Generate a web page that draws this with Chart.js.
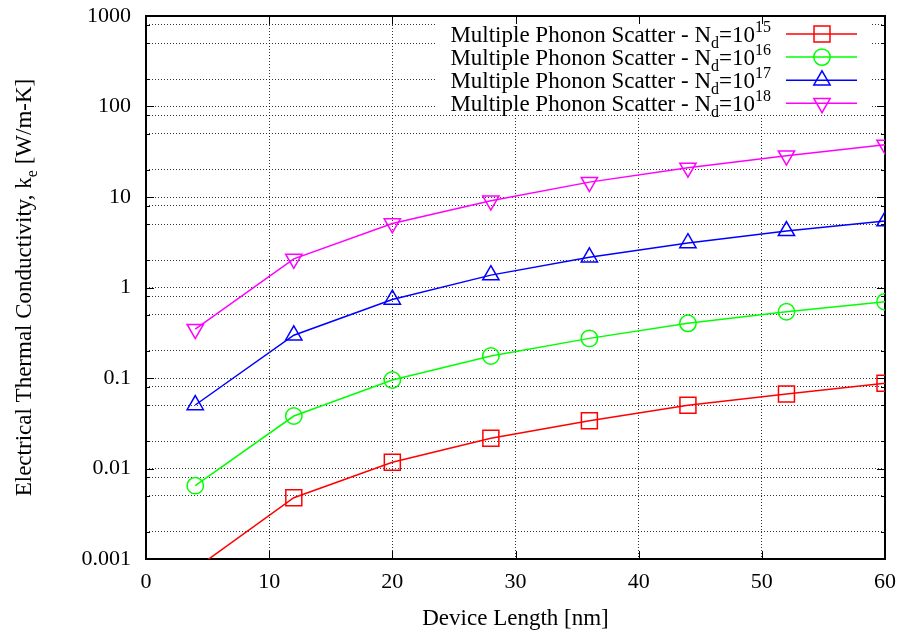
<!DOCTYPE html>
<html>
<head>
<meta charset="utf-8">
<script src="https://cdn.jsdelivr.net/npm/chart.js@4/dist/chart.umd.min.js"></script>
<style>
  html, body { margin: 0; padding: 0; background: #fff; }
  canvas { display: block; }
</style>
</head>
<body>
<canvas id="c" width="903" height="632"></canvas>
<script>
// Device length [nm] at each computed point
const deviceLength = [4, 12, 20, 28, 36, 44, 52, 60];

// Electrical thermal conductivity k_e [W/m-K], one array per doping level
const ke_Nd1e15 = [0.00078, 0.00475, 0.0117, 0.0216, 0.0337, 0.0499, 0.0666, 0.0874];
const ke_Nd1e16 = [0.00646, 0.038, 0.095, 0.175, 0.274, 0.402, 0.54, 0.697];
const ke_Nd1e17 = [0.0503, 0.297, 0.736, 1.37, 2.16, 3.1, 4.22, 5.42];
const ke_Nd1e18 = [0.347, 2.07, 5.1, 9.1, 14.6, 21.0, 28.6, 37.7];

// Doping exponents shown in the key
const dopingExponents = ['15', '16', '17', '18'];

// Axis ticks
const yMajorTicks = [0.001, 0.01, 0.1, 1, 10, 100, 1000];
const yMajorLabels = ['0.001', '0.01', '0.1', '1', '10', '100', '1000'];
const yMinorFactors = [2, 5, 8];
const xTickStep = 10;

const FONT = 'Liberation Serif, Times New Roman, serif';
const TEXT_SIZE = 23;

// Full list of y tick values: decades plus 2, 5, 8 within each decade
const yTickValues = [];
yMajorTicks.forEach((v, i) => {
  yTickValues.push(v);
  if (i < yMajorTicks.length - 1) {
    yMinorFactors.forEach(f => yTickValues.push(parseFloat((v * f).toPrecision(6))));
  }
});
function isMajor(v) {
  return yMajorTicks.some(m => Math.abs(v - m) / m < 1e-9);
}
function majorLabel(v) {
  const i = yMajorTicks.findIndex(m => Math.abs(v - m) / m < 1e-9);
  return i >= 0 ? yMajorLabels[i] : '';
}

const seriesDefs = [
  { values: ke_Nd1e15, color: '#ff0000', style: 'rect', radius: 11.3, rotation: 0 },
  { values: ke_Nd1e16, color: '#00ff00', style: 'circle', radius: 8.2, rotation: 0 },
  { values: ke_Nd1e17, color: '#0000ff', style: 'triangle', radius: 9.4, rotation: 0 },
  { values: ke_Nd1e18, color: '#ff00ff', style: 'triangle', radius: 9.4, rotation: 180 }
];

const datasets = seriesDefs.map((s, k) => ({
  label: 'Multiple Phonon Scatter - Nd=10^' + dopingExponents[k],
  data: deviceLength.map((x, i) => ({ x: x, y: s.values[i] })),
  borderColor: s.color,
  backgroundColor: 'rgba(0,0,0,0)',
  borderWidth: 1.5,
  tension: 0,
  pointStyle: s.style,
  pointRotation: s.rotation,
  pointRadius: s.radius,
  pointHoverRadius: s.radius,
  pointBorderWidth: 1.5,
  pointBorderColor: s.color,
  pointBackgroundColor: 'rgba(0,0,0,0)',
  clip: 0
}));

// Draw a run of text pieces (normal / sub / superscript) starting at x
function drawRich(ctx, parts, x, y) {
  let cx = x;
  parts.forEach(p => {
    ctx.font = p.size + 'px ' + FONT;
    ctx.fillText(p.t, cx, y + p.dy);
    cx += ctx.measureText(p.t).width;
  });
}
function richWidth(ctx, parts) {
  let w = 0;
  parts.forEach(p => {
    ctx.font = p.size + 'px ' + FONT;
    w += ctx.measureText(p.t).width;
  });
  return w;
}

function drawMarker(ctx, s, x, y) {
  const opts = {
    pointStyle: s.style, rotation: s.rotation, radius: s.radius, borderWidth: 1.5
  };
  ctx.save();
  ctx.strokeStyle = s.color;
  ctx.fillStyle = 'rgba(0,0,0,0)';
  ctx.lineWidth = 1.5;
  Chart.helpers.drawPoint(ctx, opts, x, y);
  ctx.restore();
}

const framePlugin = {
  id: 'frameAndKey',
  beforeDatasetsDraw(chart) {
    const { ctx, chartArea: a, scales } = chart;
    ctx.save();
    // opaque key area
    ctx.fillStyle = '#ffffff';
    ctx.fillRect(436, 19, 436, 95);

    // inward tick marks on all four sides
    ctx.strokeStyle = '#000';
    ctx.lineWidth = 1;
    ctx.beginPath();
    scales.y.ticks.forEach(t => {
      const py = Math.round(scales.y.getPixelForValue(t.value)) + 0.5;
      const len = isMajor(t.value) ? 8 : 4;
      ctx.moveTo(a.left, py); ctx.lineTo(a.left + len, py);
      ctx.moveTo(a.right, py); ctx.lineTo(a.right - len, py);
    });
    scales.x.ticks.forEach(t => {
      const px = Math.round(scales.x.getPixelForValue(t.value)) + 0.5;
      ctx.moveTo(px, a.bottom); ctx.lineTo(px, a.bottom - 8);
      ctx.moveTo(px, a.top); ctx.lineTo(px, a.top + 8);
    });
    ctx.stroke();

    // plot border
    ctx.lineWidth = 2;
    ctx.strokeRect(Math.round(a.left), Math.round(a.top),
                   Math.round(a.right - a.left), Math.round(a.bottom - a.top));
    ctx.restore();
  },
  afterDatasetsDraw(chart) {
    const { ctx, chartArea: a } = chart;
    ctx.save();
    ctx.fillStyle = '#000';
    ctx.textBaseline = 'alphabetic';
    ctx.textAlign = 'left';

    // key entries
    seriesDefs.forEach((s, k) => {
      const cy = 34 + k * 23.1;
      const parts = [
        { t: 'Multiple Phonon Scatter - N', size: TEXT_SIZE, dy: 0 },
        { t: 'd', size: 16, dy: 6 },
        { t: '=10', size: TEXT_SIZE, dy: 0 },
        { t: dopingExponents[k], size: 16, dy: -10 }
      ];
      const w = richWidth(ctx, parts);
      ctx.fillStyle = '#000';
      drawRich(ctx, parts, 771 - w, cy + 7.5);

      ctx.strokeStyle = s.color;
      ctx.lineWidth = 1.5;
      ctx.beginPath();
      ctx.moveTo(786, cy);
      ctx.lineTo(857, cy);
      ctx.stroke();
      drawMarker(ctx, s, 822, cy);
    });

    // x axis title
    ctx.fillStyle = '#000';
    ctx.font = TEXT_SIZE + 'px ' + FONT;
    ctx.textAlign = 'center';
    ctx.fillText('Device Length [nm]', (a.left + a.right) / 2, 625);

    // y axis title (rotated, with subscript)
    ctx.textAlign = 'left';
    const yParts = [
      { t: 'Electrical Thermal Conductivity, k', size: TEXT_SIZE, dy: 0 },
      { t: 'e', size: 16, dy: 6 },
      { t: ' [W/m-K]', size: TEXT_SIZE, dy: 0 }
    ];
    const yw = richWidth(ctx, yParts);
    ctx.translate(31, (a.top + a.bottom) / 2);
    ctx.rotate(-Math.PI / 2);
    drawRich(ctx, yParts, -yw / 2, 0);
    ctx.restore();
  }
};

new Chart(document.getElementById('c'), {
  type: 'line',
  data: { datasets: datasets },
  plugins: [framePlugin],
  options: {
    responsive: false,
    animation: false,
    events: [],
    layout: { padding: { top: 16, right: 18, left: 0, bottom: 0 } },
    plugins: { legend: { display: false }, tooltip: { enabled: false } },
    scales: {
      x: {
        type: 'linear',
        min: 0,
        max: 60,
        afterFit(s) { s.height = 73; s.paddingLeft = 0; s.paddingRight = 0; },
        ticks: {
          stepSize: xTickStep,
          autoSkip: false,
          maxRotation: 0,
          padding: 10,
          color: '#000',
          font: { family: FONT, size: 22 }
        },
        grid: { color: 'rgba(0,0,0,0.8)', lineWidth: 1, drawTicks: false },
        border: { display: false, dash: [1, 2] }
      },
      y: {
        type: 'logarithmic',
        min: 0.001,
        max: 1000,
        afterFit(s) { s.width = 146; s.paddingTop = 0; s.paddingBottom = 0; },
        afterBuildTicks(s) {
          s.ticks = yTickValues.map(v => ({ value: v, major: isMajor(v) }));
        },
        ticks: {
          autoSkip: false,
          padding: 15,
          color: '#000',
          font: { family: FONT, size: 22 },
          callback: (v) => majorLabel(v)
        },
        grid: { color: 'rgba(0,0,0,0.8)', lineWidth: 1, drawTicks: false },
        border: { display: false, dash: [1, 2] }
      }
    }
  }
});
</script>
</body>
</html>
